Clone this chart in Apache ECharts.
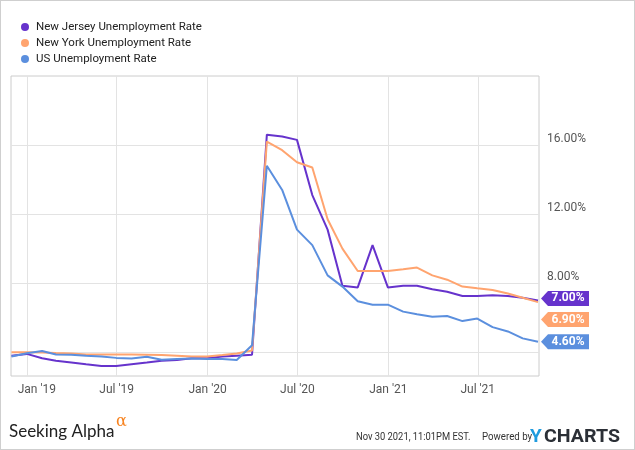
<!DOCTYPE html>
<html>
<head>
<meta charset="utf-8">
<script src="https://cdn.jsdelivr.net/npm/echarts@6/dist/echarts.min.js"></script>
<style>
  html, body { margin: 0; padding: 0; background: #fff; }
  #chart { width: 635px; height: 450px; box-sizing: border-box; border: 1px solid #cfcfcf; }
</style>
</head>
<body>
<div id="chart"></div>
<script>
// Month-end observation dates
const dates = [
  '2018-11-30','2018-12-31','2019-01-31','2019-02-28','2019-03-31','2019-04-30',
  '2019-05-31','2019-06-30','2019-07-31','2019-08-31','2019-09-30','2019-10-31',
  '2019-11-30','2019-12-31','2020-01-31','2020-02-29','2020-03-31','2020-04-30',
  '2020-05-31','2020-06-30','2020-07-31','2020-08-31','2020-09-30','2020-10-31',
  '2020-11-30','2020-12-31','2021-01-31','2021-02-28','2021-03-31','2021-04-30',
  '2021-05-31','2021-06-30','2021-07-31','2021-08-31','2021-09-30','2021-10-31'
];
const newJersey = [3.8,3.9,3.65,3.5,3.4,3.3,3.2,3.2,3.3,3.4,3.5,3.55,3.65,3.65,3.75,3.8,3.85,
  16.6,16.5,16.3,13.1,11.1,7.85,7.75,10.2,7.75,7.85,7.85,7.65,7.5,7.25,7.25,7.3,7.25,7.15,7.0];
const newYork = [4.0,4.0,3.98,3.95,3.93,3.87,3.87,3.87,3.87,3.85,3.83,3.79,3.75,3.75,3.83,3.92,4.1,
  16.2,15.7,15.0,14.7,11.7,10.0,8.7,8.7,8.7,8.8,8.9,8.45,8.2,7.8,7.7,7.6,7.4,7.15,6.9];
const us = [3.75,3.94,4.07,3.87,3.85,3.79,3.75,3.67,3.64,3.73,3.56,3.6,3.64,3.6,3.6,3.55,4.4,
  14.8,13.4,11.1,10.2,8.45,7.8,6.95,6.75,6.75,6.35,6.2,6.05,6.1,5.8,5.95,5.45,5.2,4.8,4.6];

const seriesNames = ['New Jersey Unemployment Rate','New York Unemployment Rate','US Unemployment Rate'];
const seriesColors = ['#6633cc','#ffa46f','#5b8fde'];

const xTickDates = ['2019-01-01','2019-07-01','2020-01-01','2020-07-01','2021-01-01','2021-07-01'];
const xTickLabels = ["Jan '19","Jul '19","Jan '20","Jul '20","Jan '21","Jul '21"];
const yGridValues = [4, 8, 12, 16];
const yLabelValues = [8, 12, 16];

function ts(s) { const p = s.split('-').map(Number); return Date.UTC(p[0], p[1]-1, p[2]); }
const xTicks = xTickDates.map(ts);

const tagPath = 'path://M0,7.5 L7,0 L48,0 L48,15 L7,15 Z';
const tagDy = [-2, 17.5, 0];

function buildSeries(name, values, color, dy) {
  const data = dates.map((d, i) => [ts(d), values[i]]);
  const last = data[data.length - 1];
  return {
    name: name,
    type: 'line',
    data: data,
    showSymbol: false,
    symbol: 'circle',
    lineStyle: { color: color, width: 2 },
    itemStyle: { color: color },
    z: 3,
    markPoint: {
      symbol: tagPath,
      symbolSize: [48, 15],
      symbolKeepAspect: false,
      symbolOffset: [27, dy],
      silent: true,
      itemStyle: { color: color },
      label: {
        show: true,
        position: 'inside',
        offset: [3, 0],
        color: '#fff',
        fontFamily: 'Roboto',
        fontWeight: 'bold',
        fontSize: 12,
        formatter: () => last[1].toFixed(2) + '%'
      },
      data: [{ coord: last, value: last[1] }]
    }
  };
}

const chart = echarts.init(document.getElementById('chart'), null, { renderer: 'canvas' });
chart.setOption({
  animation: false,
  backgroundColor: '#fff',
  legend: {
    orient: 'vertical',
    left: 15,
    top: 15,
    itemGap: 4,
    itemWidth: 8,
    itemHeight: 8,
    icon: 'circle',
    textStyle: { fontFamily: 'Roboto', fontSize: 11.5, color: '#222', padding: [0, 0, 0, 2] },
    data: seriesNames
  },
  grid: {
    left: 10, right: 95, top: 75, bottom: 73,
    show: true, borderColor: '#cccccc', borderWidth: 1, containLabel: false
  },
  xAxis: {
    type: 'value',
    min: ts('2018-11-29'),
    max: ts('2021-11-02'),
    axisLine: { show: false },
    axisTick: { show: false, customValues: xTicks },
    splitLine: { show: true, lineStyle: { color: '#e3e3e3', width: 1 } },
    axisLabel: {
      customValues: xTicks,
      margin: 8,
      color: '#555',
      fontFamily: 'Roboto',
      fontSize: 12,
      formatter: function (v) {
        const i = xTicks.indexOf(v);
        const t = i >= 0 ? xTickLabels[i] : '';
        return i === 0 ? '{first|' + t + '}' : t;
      },
      rich: { first: { padding: [0, 0, 0, 19], color: '#555', fontFamily: 'Roboto', fontSize: 12 } }
    }
  },
  yAxis: {
    type: 'value',
    position: 'right',
    min: 2.62,
    max: 20,
    axisLine: { show: false },
    axisTick: { show: false, customValues: yGridValues },
    splitLine: { show: true, lineStyle: { color: '#e3e3e3', width: 1 } },
    axisLabel: {
      customValues: yLabelValues,
      margin: 8,
      color: '#555',
      fontFamily: 'Roboto',
      fontSize: 12,
      verticalAlign: 'bottom',
      formatter: v => v.toFixed(2) + '%'
    }
  },
  series: [
    buildSeries(seriesNames[0], newJersey, seriesColors[0], tagDy[0]),
    buildSeries(seriesNames[1], newYork, seriesColors[1], tagDy[1]),
    buildSeries(seriesNames[2], us, seriesColors[2], tagDy[2])
  ],
  graphic: [
    { type: 'text', left: 8, top: 422, style: { text: 'Seeking Alpha', fontFamily: 'Lato', fontSize: 17, fill: '#222' } },
    { type: 'text', left: 115, top: 413, style: { text: 'α', fontFamily: 'DejaVu Serif', fontSize: 16, fill: '#f7821e' } },
    { type: 'text', left: 355, top: 431, scaleX: 0.85, style: { text: 'Nov 30 2021, 11:01PM EST.', fontFamily: 'Roboto', fontSize: 11, fill: '#333' } },
    { type: 'text', left: 481, top: 431, scaleX: 0.88, style: { text: 'Powered by', fontFamily: 'Roboto', fontSize: 11, fill: '#333' } },
    { type: 'text', left: 529, top: 427, style: { text: 'Y', fontFamily: 'Roboto', fontWeight: 'bold', fontSize: 19, fill: '#1f9bde' } },
    { type: 'text', left: 543, top: 427, scaleX: 1.03, style: { text: 'CHARTS', fontFamily: 'Roboto', fontWeight: 'bold', fontSize: 19, fill: '#2b2f36' } }
  ]
});
</script>
</body>
</html>
